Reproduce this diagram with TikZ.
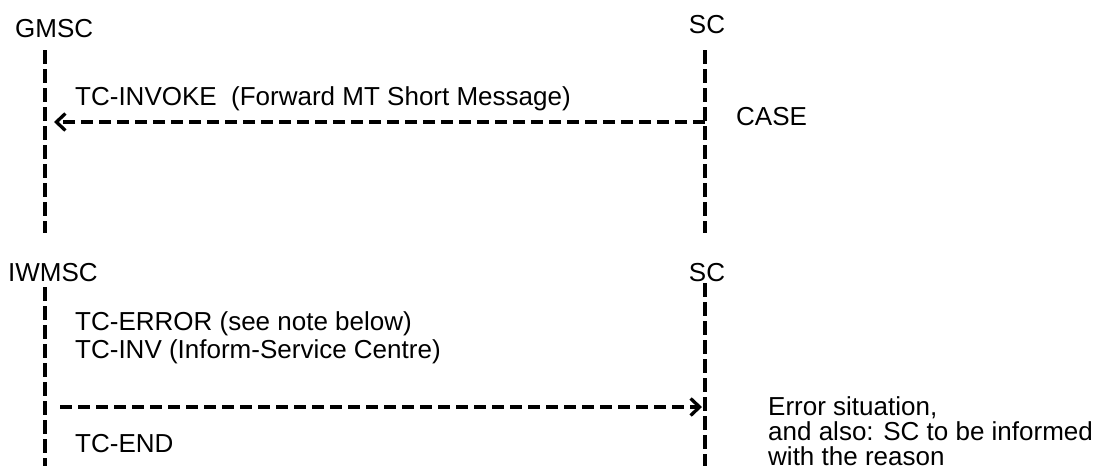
\documentclass[tikz,border=0pt]{standalone}
\usepackage{fontspec}
\setmainfont{Liberation Sans}
\usetikzlibrary{arrows.meta}
\begin{document}
\begin{tikzpicture}[x=1pt,y=-1pt,
  lbl/.style={inner sep=0pt,font=\fontsize{26}{25}\selectfont},
  lifeline/.style={line width=4pt,dash pattern=on 14pt off 5pt},
  msg/.style={line width=3.3pt,dash pattern=on 12pt off 6pt,
    -{Straight Barb[length=9pt,width=17pt,line width=3.3pt]}}]
\useasboundingbox (0,0) rectangle (1099,466);
% top part
\node[lbl,anchor=base west] (gmsc) at (15,37) {GMSC};
\node[lbl,anchor=base] (sc1) at (707,33) {SC};
\coordinate (gt) at (45,50);
\coordinate (gb) at (45,233);
\coordinate (st) at (705,50);
\coordinate (sb) at (705,233);
\draw[lifeline] (gt) -- (gb);
\draw[lifeline] (st) -- (sb);
\coordinate (a1s) at (705,122);
\coordinate (a1e) at (45,122);
\draw[msg,shorten >=9pt] (a1s) -- (a1e);
\node[lbl,anchor=base west] (inv) at (75,105) {TC-INVOKE\ \ (Forward MT Short Message)};
\node[lbl,anchor=base west] (case) at (736,125) {CASE};
% bottom part
\node[lbl,anchor=base west] (iwmsc) at (8,281) {IWMSC};
\node[lbl,anchor=base] (sc2) at (707,281) {SC};
\coordinate (it) at (45,287);
\coordinate (ib) at (45,466);
\coordinate (s2t) at (705,283);
\coordinate (s2b) at (705,466);
\draw[lifeline] (it) -- (ib);
\draw[lifeline] (s2t) -- (s2b);
\node[lbl,anchor=base west] (err) at (75,330) {TC-ERROR (see note below)};
\node[lbl,anchor=base west] (tcinv) at (75,358) {TC-INV (Inform-Service Centre)};
\coordinate (a2s) at (45,407);
\coordinate (a2e) at (705,407);
\draw[msg,shorten <=15pt,shorten >=3pt] (a2s) -- (a2e);
\node[lbl,anchor=base west] (end) at (75,452) {TC-END};
\node[lbl,anchor=base west,align=left] (note) at (768,465)
  {Error situation,\\and also: SC to be informed\\with the reason};
\end{tikzpicture}
\end{document}
